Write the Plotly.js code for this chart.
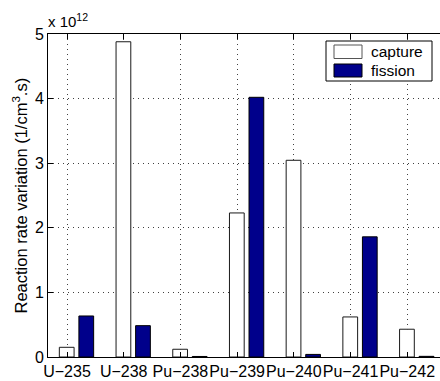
<!DOCTYPE html>
<html>
<head>
<meta charset="utf-8">
<script src="https://cdn.plot.ly/plotly-3.0.1.min.js"></script>
<style>html,body{margin:0;padding:0;background:#fff;}#chart{width:440px;height:381px;}</style>
</head>
<body>
<div id="chart"></div>
<script>
// Data (values in units of 1e12 1/(cm^3.s))
const isotopes = ["U\u2212235", "U\u2212238", "Pu\u2212238", "Pu\u2212239", "Pu\u2212240", "Pu\u2212241", "Pu\u2212242"];
const captureValues = [0.15, 4.88, 0.12, 2.23, 3.045, 0.62, 0.43];
const fissionValues = [0.635, 0.485, 0.008, 4.02, 0.04, 1.86, 0.01];
const seriesNames = ["capture", "fission"];
const yTickVals = [0, 1, 2, 3, 4, 5];
const yTickText = ["0", "1", "2", "3", "4", "5"];

const FONT = "'Liberation Sans', Arial, Helvetica, sans-serif";
const FS = 15;

const traces = [
  {
    type: "bar", name: seriesNames[0], x: isotopes, y: captureValues,
    width: 0.26, offset: -0.135,
    marker: {color: "#ffffff", line: {color: "#1a1a1a", width: 1}},
    showlegend: false, hoverinfo: "skip"
  },
  {
    type: "bar", name: seriesNames[1], x: isotopes, y: fissionValues,
    width: 0.26, offset: 0.21,
    marker: {color: "#00008b", line: {color: "#000000", width: 1}},
    showlegend: false, hoverinfo: "skip"
  }
];

// plot area: left 48, right 440, top 34, bottom 357
const W = 440, H = 381;
const mL = 48, mR = 0, mT = 34, mB = 24;
const pw = W - mL - mR, ph = H - mT - mB;
function px(x) { return (x - mL) / pw; }
function py(y) { return (H - mB - y) / ph; }

const layout = {
  width: W, height: H,
  margin: {l: mL, r: mR, t: mT, b: mB, pad: 0},
  paper_bgcolor: "#ffffff", plot_bgcolor: "#ffffff",
  font: {family: FONT, size: FS, color: "#000"},
  barmode: "overlay",
  xaxis: {
    type: "category",
    range: [-0.335, 6.578],
    showline: true, linecolor: "#000", linewidth: 1,
    mirror: "ticks",
    ticks: "inside", ticklen: 5, tickcolor: "#000",
    tickangle: 0,
    showgrid: true, gridcolor: "rgba(0,0,0,0.75)", griddash: "1px,4px", gridwidth: 1,
    tickfont: {family: FONT, size: 16, color: "#000"},
    zeroline: false, fixedrange: true
  },
  yaxis: {
    range: [0, 5],
    tickvals: yTickVals, ticktext: yTickText,
    showline: true, linecolor: "#000", linewidth: 1,
    ticks: "inside", ticklen: 5, tickcolor: "#000",
    showgrid: true, gridcolor: "rgba(0,0,0,0.75)", griddash: "1px,4px", gridwidth: 1,
    tickfont: {family: FONT, size: 16, color: "#000"},
    zeroline: false, fixedrange: true
  },
  shapes: [
    {type: "rect", xref: "paper", yref: "paper", x0: px(326), x1: px(432), y0: py(81), y1: py(41),
     line: {color: "#000", width: 1}, fillcolor: "#fff", layer: "above"},
    {type: "rect", xref: "paper", yref: "paper", x0: px(334), x1: px(362), y0: py(58.5), y1: py(45),
     line: {color: "#555", width: 1}, fillcolor: "#fff", layer: "above"},
    {type: "rect", xref: "paper", yref: "paper", x0: px(334), x1: px(362), y0: py(77), y1: py(64),
     line: {color: "#000", width: 1}, fillcolor: "#00008b", layer: "above"}
  ],
  annotations: [
    {text: seriesNames[0], xref: "paper", yref: "paper", x: px(369), y: py(52), xanchor: "left", yanchor: "middle",
     showarrow: false, font: {family: FONT, size: 15.5, color: "#000"}},
    {text: seriesNames[1], xref: "paper", yref: "paper", x: px(369), y: py(70.5), xanchor: "left", yanchor: "middle",
     showarrow: false, font: {family: FONT, size: 15.5, color: "#000"}},
    {text: "x 10<sup>12</sup>", xref: "paper", yref: "paper", x: 0, y: 1, xanchor: "left", yanchor: "bottom",
     xshift: -2, yshift: 2, showarrow: false, font: {family: FONT, size: 15, color: "#000"}},
    {text: "Reaction rate variation (1/cm<sup>3</sup>.s)", xref: "paper", yref: "paper", x: 0, y: 0.5,
     xanchor: "center", yanchor: "middle", xshift: -28, textangle: -90, showarrow: false,
     font: {family: FONT, size: 16.5, color: "#000"}}
  ]
};

Plotly.newPlot("chart", traces, layout, {displayModeBar: false, staticPlot: true});
</script>
</body>
</html>
